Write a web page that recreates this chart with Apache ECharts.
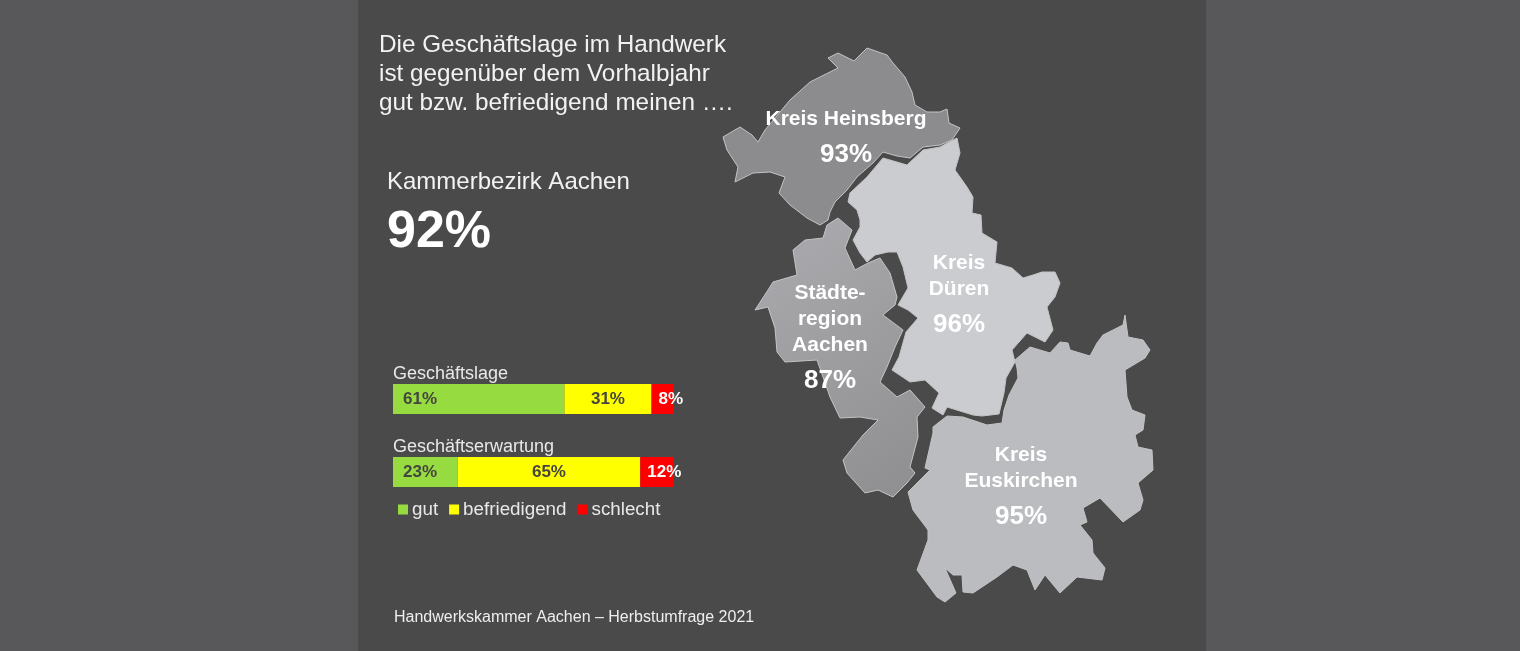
<!DOCTYPE html>
<html>
<head>
<meta charset="utf-8">
<title>Geschäftslage im Handwerk</title>
<script src="https://cdn.jsdelivr.net/npm/echarts@6/dist/echarts.min.js"></script>
<style>
  html, body { margin: 0; padding: 0; background: #58585a; }
  #main { width: 1520px; height: 651px; }
</style>
</head>
<body>
<div id="main"></div>
<script>
// bar data
var barCategories = ['Geschäftslage', 'Geschäftserwartung'];
var gutValues = [61, 23];
var befriedigendValues = [31, 65];
var schlechtValues = [8, 12];

// map data
var regionNames = ['Kreis Heinsberg', 'Kreis Düren', 'Städteregion Aachen', 'Kreis Euskirchen'];
var regionValues = [93, 96, 87, 95];
var regionLabels = ['Kreis Heinsberg', 'Kreis\nDüren', 'Städte-\nregion\nAachen', 'Kreis\nEuskirchen'];

// region outlines in its pixels
var heinsbergOutline = [[838,53],[854,61],[867,48],[887,55],[893,63],[905,77],[912,92],[915,105],[927,112],[940,112],[947,109],[949,123],[960,128],[952,140],[940,145],[923,147],[910,158],[897,156],[883,152],[873,163],[857,177],[847,190],[835,202],[830,212],[828,220],[820,225],[807,218],[790,205],[779,193],[785,177],[770,172],[753,173],[735,182],[738,167],[727,150],[723,137],[740,127],[752,135],[758,142],[765,130],[790,100],[810,82],[838,68],[828,58]];
var durenOutline = [[957,138],[960,153],[955,170],[967,187],[973,197],[972,213],[981,215],[982,233],[997,242],[995,263],[1012,268],[1023,278],[1033,275],[1042,272],[1055,272],[1060,283],[1055,297],[1047,307],[1053,330],[1045,342],[1027,333],[1012,350],[1015,362],[1006,378],[1004,393],[999,414],[982,416],[973,415],[947,407],[943,415],[932,408],[939,393],[925,380],[910,382],[892,370],[899,357],[906,332],[918,318],[908,310],[898,305],[908,288],[903,267],[897,252],[888,252],[875,255],[867,262],[860,253],[853,240],[860,227],[860,220],[857,210],[848,202],[850,193],[867,177],[883,158],[907,165],[923,150],[940,147]];
var aachenOutline = [[838,218],[852,230],[845,248],[855,270],[868,263],[880,258],[890,273],[897,297],[895,305],[883,315],[903,330],[895,347],[887,367],[880,382],[897,397],[910,390],[925,407],[917,417],[918,437],[910,467],[915,473],[907,483],[893,497],[878,490],[865,493],[847,473],[843,460],[863,435],[878,420],[860,417],[840,418],[830,397],[817,360],[785,362],[777,352],[775,328],[768,307],[755,310],[768,290],[773,282],[797,275],[793,250],[805,240],[823,238],[827,225]];
var euskirchenOutline = [[1125,315],[1128,337],[1143,340],[1150,350],[1145,358],[1125,370],[1127,397],[1132,410],[1145,415],[1143,430],[1135,435],[1138,447],[1152,450],[1153,470],[1138,483],[1143,500],[1140,510],[1123,522],[1100,498],[1083,508],[1087,522],[1080,525],[1092,540],[1093,553],[1105,568],[1102,580],[1077,577],[1060,593],[1045,575],[1035,590],[1027,570],[1013,565],[997,577],[973,593],[963,592],[962,575],[953,575],[945,568],[956,593],[945,602],[937,597],[917,570],[928,540],[928,530],[913,510],[908,492],[930,470],[925,468],[933,433],[933,427],[947,416],[963,417],[987,425],[1002,423],[1004,410],[1009,395],[1018,378],[1017,368],[1015,360],[1030,347],[1050,353],[1060,342],[1068,343],[1070,350],[1090,356],[1097,343],[1103,335],[1123,325]];
var regionOutlines = [heinsbergOutline, durenOutline, aachenOutline, euskirchenOutline];
var regionLabelCenters = [[846, 142], [959, 299], [830, 342], [1021, 491]];

var PAGE_W = 1520, PAGE_H = 651;
var FONT = '"Liberation Sans", Arial, sans-serif';

var aachenFill = new echarts.graphic.LinearGradient(0, 0, 1, 1, [
  { offset: 0, color: '#acacb0' },
  { offset: 1, color: '#8e8e90' }
]);
var regionFills = ['#8c8c8f', '#cbccd0', aachenFill, '#bbbcc0'];

function flip(p) {
  return [p[0], PAGE_H - p[1]];
}

var features = [];
for (var i = 0; i < regionNames.length; i++) {
  var ring = regionOutlines[i].map(flip);
  ring.push(ring[0]);
  features.push({
    type: 'Feature',
    properties: { name: regionNames[i], cp: flip(regionLabelCenters[i]) },
    geometry: { type: 'Polygon', coordinates: [ring] }
  });
}
echarts.registerMap('kammerbezirk', { type: 'FeatureCollection', features: features });

var mapData = regionNames.map(function (name, k) {
  return { name: name, value: regionValues[k], itemStyle: { areaColor: regionFills[k] } };
});

function regionFormatter(params) {
  var k = regionNames.indexOf(params.name);
  var lines = regionLabels[k].split('\n').map(function (line) {
    return '{n|' + line + '}';
  });
  lines.push('{v|' + params.value + '%}');
  return lines.join('\n');
}

function percentLabel(position, distance, color) {
  return {
    show: true,
    position: position,
    distance: distance,
    color: color,
    fontFamily: FONT,
    fontSize: 17,
    fontWeight: 'bold',
    formatter: '{c}%'
  };
}

var chart = echarts.init(document.getElementById('main'), null, { renderer: 'canvas' });
chart.setOption({
  backgroundColor: '#58585a',
  animation: false,
  graphic: [{
    type: 'rect',
    z: -10,
    silent: true,
    shape: { x: 358, y: 0, width: 848, height: PAGE_H },
    style: { fill: '#4a4a4a' }
  }],
  title: [{
    text: 'Die Geschäftslage im Handwerk\nist gegenüber dem Vorhalbjahr\ngut bzw. befriedigend meinen ….',
    left: 379, top: 31, padding: 0,
    textStyle: { color: '#f2f2f2', fontFamily: FONT, fontSize: 24.3, fontWeight: 'normal', lineHeight: 29 }
  }, {
    text: 'Kammerbezirk Aachen',
    left: 387, top: 170, padding: 0,
    textStyle: { color: '#f2f2f2', fontFamily: FONT, fontSize: 24, fontWeight: 'normal' }
  }, {
    text: '92%',
    left: 387, top: 207, padding: 0,
    textStyle: { color: '#ffffff', fontFamily: FONT, fontSize: 52, fontWeight: 'bold' }
  }, {
    text: 'Handwerkskammer Aachen – Herbstumfrage 2021',
    left: 394, top: 610, padding: 0,
    textStyle: { color: '#eeeeee', fontFamily: FONT, fontSize: 16, fontWeight: 'normal' }
  }],
  legend: {
    left: 398, top: 500,
    itemWidth: 10, itemHeight: 10, itemGap: 11,
    icon: 'rect',
    padding: 0,
    selectedMode: false,
    textStyle: { color: '#e8e8e8', fontFamily: FONT, fontSize: 18.8, padding: [0, 0, 0, -1] },
    data: ['gut', 'befriedigend', 'schlecht']
  },
  grid: { left: 393, top: 362.5, width: 281, height: 146 },
  xAxis: { type: 'value', min: 0, max: 100, show: false },
  yAxis: {
    type: 'category',
    inverse: true,
    data: barCategories,
    axisLine: { show: false },
    axisTick: { show: false },
    axisLabel: {
      inside: true,
      margin: 0,
      align: 'left',
      verticalAlign: 'bottom',
      padding: [0, 0, 16, 0],
      color: '#e8e8e8',
      fontFamily: FONT,
      fontSize: 18
    }
  },
  series: [{
    name: 'gut', type: 'bar', stack: 'lage', barWidth: 30, silent: true,
    data: gutValues,
    itemStyle: { color: '#96dc40' },
    label: percentLabel('insideLeft', 10, '#454540')
  }, {
    name: 'befriedigend', type: 'bar', stack: 'lage', barWidth: 30, silent: true,
    data: befriedigendValues,
    itemStyle: { color: '#ffff00' },
    label: percentLabel('inside', 0, '#454540')
  }, {
    name: 'schlecht', type: 'bar', stack: 'lage', barWidth: 30, silent: true,
    data: schlechtValues,
    itemStyle: { color: '#ff0000' },
    label: percentLabel('insideLeft', 7, '#ffffff')
  }, {
    name: 'Regionen',
    type: 'map',
    map: 'kammerbezirk',
    roam: false,
    silent: true,
    showLegendSymbol: false,
    aspectScale: 1,
    boundingCoords: [[0, PAGE_H], [PAGE_W, 0]],
    left: 0, top: 0, width: PAGE_W, height: PAGE_H,
    data: mapData,
    itemStyle: { borderColor: '#c4c4c6', borderWidth: 1 },
    label: {
      show: true,
      formatter: regionFormatter,
      rich: {
        n: { color: '#ffffff', fontFamily: FONT, fontSize: 21, fontWeight: 'bold', lineHeight: 26 },
        v: { color: '#ffffff', fontFamily: FONT, fontSize: 26, fontWeight: 'bold', lineHeight: 46 }
      }
    }
  }]
});
</script>
</body>
</html>
